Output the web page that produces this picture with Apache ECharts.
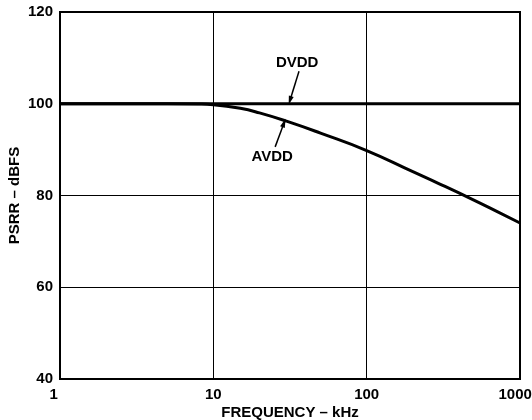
<!DOCTYPE html>
<html>
<head>
<meta charset="utf-8">
<script src="https://cdn.jsdelivr.net/npm/echarts@6/dist/echarts.min.js"></script>
<style>
  html, body { margin: 0; padding: 0; background: #fff; }
  #psrr-chart { width: 532px; height: 420px; }
</style>
</head>
<body>
<div id="psrr-chart"></div>
<script>
// frequency in kHz, PSRR in dBFS
const dvddFreq = [1, 10, 100, 1000]
const dvddPsrr = [100, 100, 100, 100]
const avddFreq = [1, 5, 8, 10, 15, 20, 30, 50, 100, 200, 300, 500, 700, 1000]
const avddPsrr = [100, 100, 99.95, 99.8, 99.0, 98.0, 96.2, 93.6, 89.8, 85.2, 82.5, 79.0, 76.6, 74.0]
const yTicks = [40, 60, 80, 100, 120]
const xTicks = [1, 10, 100, 1000]

// annotation: label text, label position, arrow start, arrow tip
const notes = [
  { name: 'DVDD', text: [35.2, 108.9], from: [36.2, 107.1], to: [31.6, 100.7] },
  { name: 'AVDD', text: [24.2, 88.4], from: [25.3, 90.6], to: [28.9, 95.8] }
]

const font = '"Liberation Sans", Arial, sans-serif'
const txt = { color: '#000', fontFamily: font, fontWeight: 'bold', fontSize: 15 }
const pair = (xs, ys) => xs.map((x, i) => [x, ys[i]])

const myChart = echarts.init(document.getElementById('psrr-chart'), null, { renderer: 'canvas' })
myChart.setOption({
  animation: false,
  grid: {
    left: 60,
    right: 12,
    top: 12,
    bottom: 41,
    outerBoundsMode: 'none',
    containLabel: false,
    show: true,
    borderColor: '#000',
    borderWidth: 2
  },
  xAxis: {
    type: 'log',
    logBase: 10,
    min: xTicks[0],
    max: xTicks[xTicks.length - 1],
    name: 'FREQUENCY – kHz',
    nameLocation: 'middle',
    nameGap: 26,
    nameMoveOverlap: false,
    nameTextStyle: txt,
    axisLine: { show: false },
    axisTick: { show: false },
    minorTick: { show: false },
    splitLine: { show: true, lineStyle: { color: '#000', width: 1 } },
    axisLabel: {
      ...txt,
      margin: 8,
      showMinLabel: true,
      showMaxLabel: true,
      formatter: v => {
        if (v === 1) return '{a|1}'
        if (v === 1000) return '{b|1000}'
        return String(v)
      },
      rich: {
        a: { ...txt, width: 21, align: 'left' },
        b: { ...txt, width: 43, align: 'left' }
      }
    }
  },
  yAxis: {
    type: 'value',
    min: yTicks[0],
    max: yTicks[yTicks.length - 1],
    interval: 20,
    name: 'PSRR – dBFS',
    nameLocation: 'middle',
    nameGap: 38,
    nameMoveOverlap: false,
    nameTextStyle: txt,
    axisLine: { show: false },
    axisTick: { show: false },
    splitLine: { show: true, lineStyle: { color: '#000', width: 1 } },
    axisLabel: { ...txt, margin: 7 }
  },
  series: [{
    name: 'DVDD',
    type: 'line',
    data: pair(dvddFreq, dvddPsrr),
    showSymbol: false,
    lineStyle: { color: '#000', width: 3 },
    z: 3
  }, {
    name: 'AVDD',
    type: 'line',
    data: pair(avddFreq, avddPsrr),
    smooth: true,
    showSymbol: false,
    lineStyle: { color: '#000', width: 3 },
    z: 3,
    markLine: {
      silent: true,
      symbol: ['none', 'triangle'],
      symbolSize: [5, 9],
      lineStyle: { color: '#000', width: 1.5, type: 'solid' },
      label: { show: false },
      data: notes.map(n => [{ coord: n.from }, { coord: n.to }])
    },
    markPoint: {
      silent: true,
      symbol: 'circle',
      symbolSize: 1,
      itemStyle: { color: 'rgba(0,0,0,0)' },
      label: { show: true, position: 'inside', ...txt, formatter: p => p.name },
      data: notes.map(n => ({ name: n.name, coord: n.text }))
    }
  }]
})
</script>
</body>
</html>
